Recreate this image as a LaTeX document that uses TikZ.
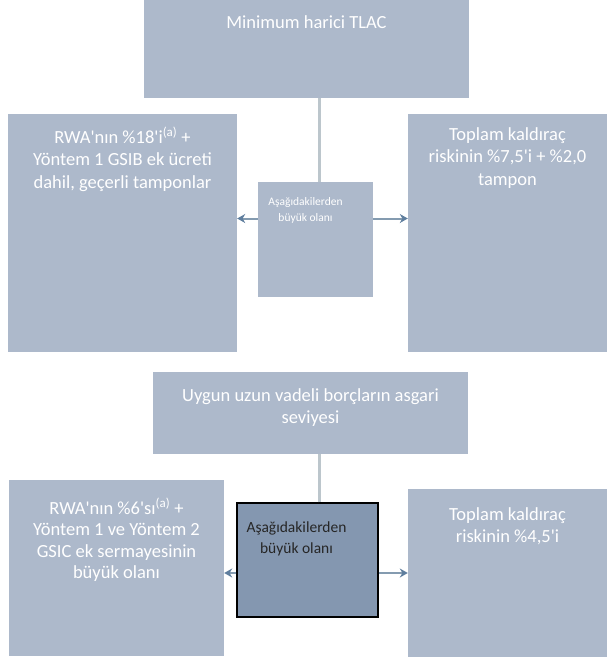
\documentclass[tikz,border=0pt]{standalone}
\usepackage{fontspec}
\setmainfont{Carlito}
\usetikzlibrary{arrows.meta}
\definecolor{boxfill}{HTML}{ADB9CB}
\definecolor{boxdark}{HTML}{8497B0}
\definecolor{linkgray}{HTML}{BCC6CC}
\definecolor{arrowblue}{HTML}{5F7E9E}
\newcommand{\ap}{\textquotesingle}
\begin{document}
\begin{tikzpicture}[x=1pt, y=-1pt, box/.style={rectangle, fill=boxfill, draw=none, inner sep=0pt}, txt/.style={align=center, text=white, font=\fontsize{18.5}{22.5}\selectfont, anchor=north}, link/.style={draw=linkgray, line width=3pt}, arr/.style={draw=arrowblue!60!linkgray, line width=2pt, -{Stealth[length=8pt, width=9pt, color=arrowblue]}}]
		\useasboundingbox (0,0) rectangle (609,659);
		% upper part
		\node[box, minimum width=325pt, minimum height=98pt, label={[txt, yshift=-12pt]north:{Minimum harici TLAC}}] (tlac) at (306.5, 49) {};
		\node[box, minimum width=229pt, minimum height=238pt, label={[txt, yshift=-10pt]north:{RWA\ap nın \%18\ap i\textsuperscript{(a)} +\\Yöntem 1 GSIB ek ücreti\\dahil, geçerli tamponlar}}] (rwaA) at (122.5, 233) {};
		\node[box, minimum width=115pt, minimum height=115pt, label={[txt, font=\fontsize{11.5}{16}\selectfont, xshift=-10pt, yshift=-12pt]north:{Aşağıdakilerden\\büyük olanı}}] (maxA) at (315.5, 239.5) {};
		\node[box, minimum width=199pt, minimum height=238pt, label={[txt, yshift=-10pt]north:{Toplam kaldıraç\\riskinin \%7,5\ap i + \%2,0\\tampon}}] (levA) at (507.5, 233) {};
		\draw[link] ([xshift=3.5pt]maxA.north) -- ([xshift=3.5pt]maxA.north |- tlac.south);
		\draw[arr] ([yshift=21pt]maxA.west) -- ([yshift=21pt]maxA.west -| rwaA.east);
		\draw[arr] ([yshift=21pt]maxA.east) -- ([yshift=21pt]maxA.east -| levA.west);
		% lower part
		\node[box, minimum width=315pt, minimum height=82pt, label={[txt, yshift=-13pt]north:{Uygun uzun vadeli borçların asgari\\seviyesi}}] (ltd) at (310.5, 413) {};
		\node[box, minimum width=215pt, minimum height=176pt, label={[txt, font=\fontsize{18.5}{21.5}\selectfont, yshift=-15pt]north:{RWA\ap nın \%6\ap sı\textsuperscript{(a)} +\\Yöntem 1 ve Yöntem 2\\GSIC ek sermayesinin\\büyük olanı}}] (rwaB) at (116.5, 568) {};
		\node[box, fill=boxdark, draw=black, line width=1.5pt, minimum width=141pt, minimum height=114pt, label={[txt, text=black!85, font=\fontsize{15.5}{21}\selectfont, xshift=-11pt, yshift=-16pt]north:{Aşağıdakilerden\\büyük olanı}}] (maxB) at (307.5, 560) {};
		\node[box, minimum width=199pt, minimum height=168pt, label={[txt, yshift=-15pt]north:{Toplam kaldıraç\\riskinin \%4,5\ap i}}] (levB) at (507.5, 573) {};
		\draw[link] ([xshift=11.5pt]maxB.north) -- ([xshift=11.5pt]maxB.north |- ltd.south);
		\draw[arr] ([yshift=-13pt]maxB.west) -- ([yshift=-13pt]maxB.west -| rwaB.east);
		\draw[arr] ([yshift=-13pt]maxB.east) -- ([yshift=-13pt]maxB.east -| levB.west);
	\end{tikzpicture}
\end{document}
